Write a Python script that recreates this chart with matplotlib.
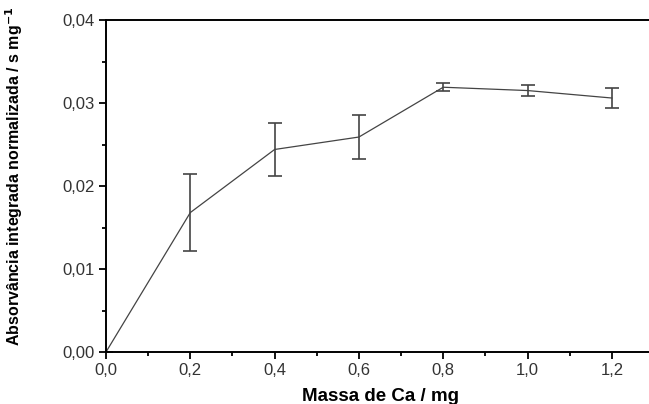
import matplotlib
matplotlib.use('Agg')
import matplotlib.pyplot as plt
from matplotlib.ticker import MultipleLocator, FuncFormatter

# data
massa = [0.0, 0.2, 0.4, 0.6, 0.8, 1.0, 1.2]
absorv = [0.0, 0.0168, 0.0244, 0.0259, 0.0319, 0.0315, 0.0306]
erro = [0.0, 0.0046, 0.0032, 0.0026, 0.0005, 0.0007, 0.0012]

plt.rcParams['font.family'] = ['Liberation Sans', 'DejaVu Sans']

fig = plt.figure(figsize=(6.49, 4.04), dpi=100)
ax = fig.add_axes([106/649, 52/404, 548/649, 332/404])

ax.errorbar(massa, absorv, yerr=erro,
            color='#444444', lw=0.9, elinewidth=1.2, capsize=4.7, capthick=1.2)

ax.set_xlim(0, 1.3)
ax.set_ylim(0, 0.04)
ax.xaxis.set_major_locator(MultipleLocator(0.2))
ax.xaxis.set_minor_locator(MultipleLocator(0.1))
ax.yaxis.set_major_locator(MultipleLocator(0.01))
ax.yaxis.set_minor_locator(MultipleLocator(0.005))
ax.xaxis.set_major_formatter(FuncFormatter(lambda v, p: ('%.1f' % v).replace('.', ',')))
ax.yaxis.set_major_formatter(FuncFormatter(lambda v, p: ('%.2f' % v).replace('.', ',')))

ax.tick_params(which='major', direction='out', length=5, width=1.3, labelsize=12,
               labelcolor='#333333', pad=3)
ax.tick_params(which='minor', direction='out', length=3, width=1.3)
for s in ax.spines.values():
    s.set_linewidth(1.4)
ax.spines['right'].set_visible(False)

ax.set_xlabel('Massa de Ca / mg', fontsize=13.5, fontweight='bold', labelpad=7)
ax.set_ylabel('Absorvância integrada normalizada / s mg$^{\\mathbf{-1}}$', fontsize=11.5,
              fontweight='bold')
ax.yaxis.set_label_coords(-0.148, 0.53)

fig.savefig('out.png', dpi=100)
